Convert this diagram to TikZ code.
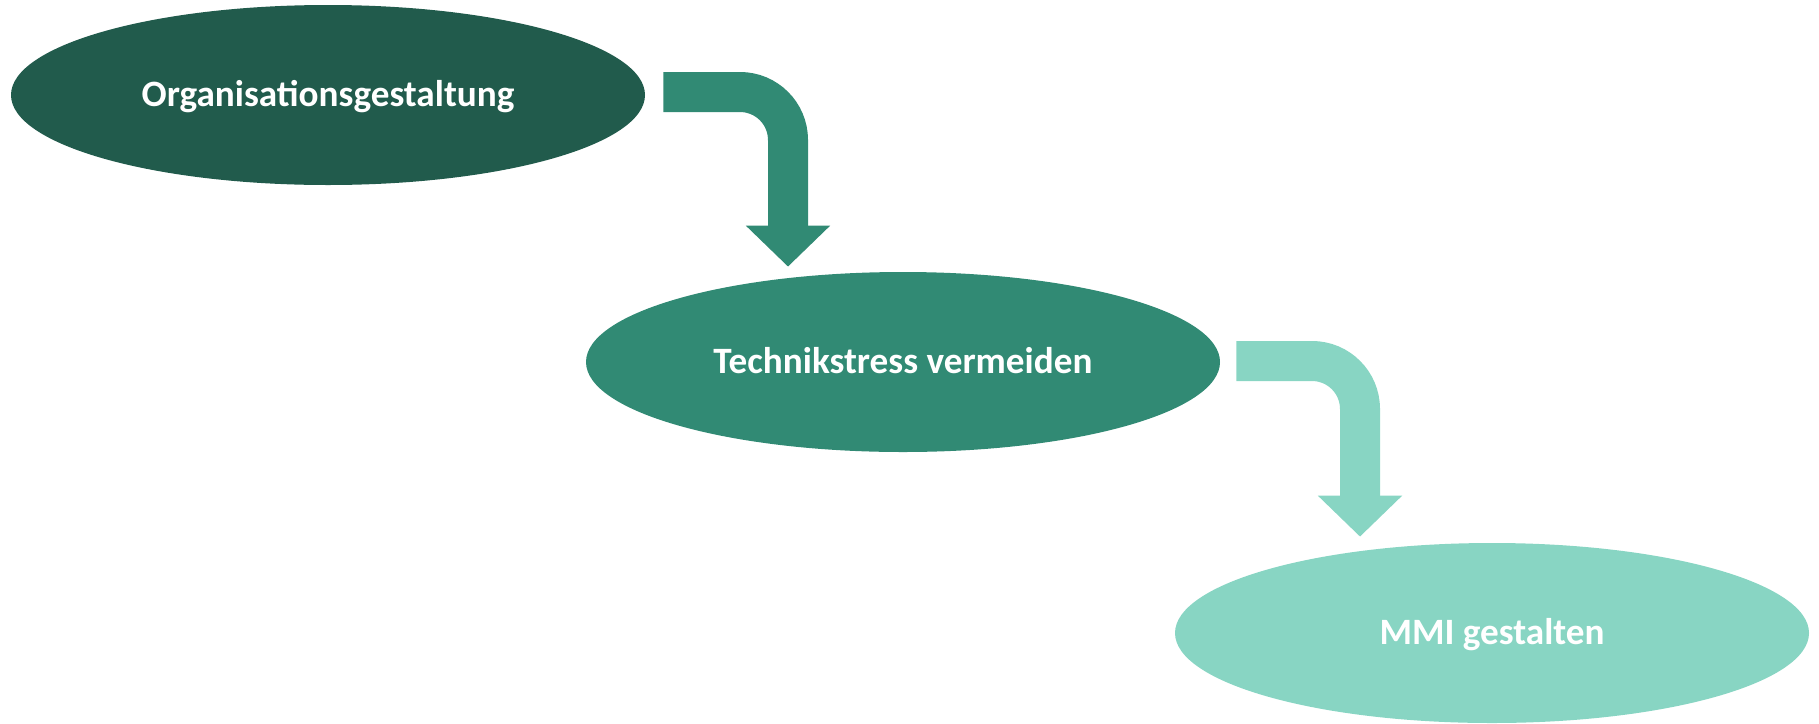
\documentclass[tikz,border=0pt]{standalone}
\usepackage{fontspec}
\setmainfont{Carlito}
\usetikzlibrary{arrows.meta,shapes.geometric,positioning}
\definecolor{darkgreen}{HTML}{215B4C}
\definecolor{midgreen}{HTML}{318A74}
\definecolor{lightgreen}{HTML}{88D5C3}
\tikzstyle{stage} = [ellipse, minimum width=317pt, minimum height=90pt,
    inner sep=0pt, text=white, text height=11pt, text depth=0pt,
    font=\fontsize{18.6}{22}\selectfont\bfseries]
\tikzstyle{bendarrow} = [line width=20pt, rounded corners=24pt,
    -{Triangle[width=41pt,length=20.5pt]}]

\begin{document}
\begin{tikzpicture}[x=0.5pt, y=-0.5pt]
  \useasboundingbox (0,0) rectangle (1819,723);
  % Place nodes
  \node [stage, fill=darkgreen] (org) at (328,95) {Organisationsgestaltung};
  \node [stage, fill=midgreen] (tech) at (903,362) {Technikstress vermeiden};
  \node [stage, fill=lightgreen] (mmi) at (1492,633) {MMI gestalten};
  % Draw arrows
  \draw [bendarrow, midgreen] ([shift={(18,-3)}]org.east) -| ([shift={(-115,-5)}]tech.north);
  \draw [bendarrow, lightgreen] ([shift={(16,-1)}]tech.east) -| ([shift={(-132,-6)}]mmi.north);
\end{tikzpicture}
\end{document}
